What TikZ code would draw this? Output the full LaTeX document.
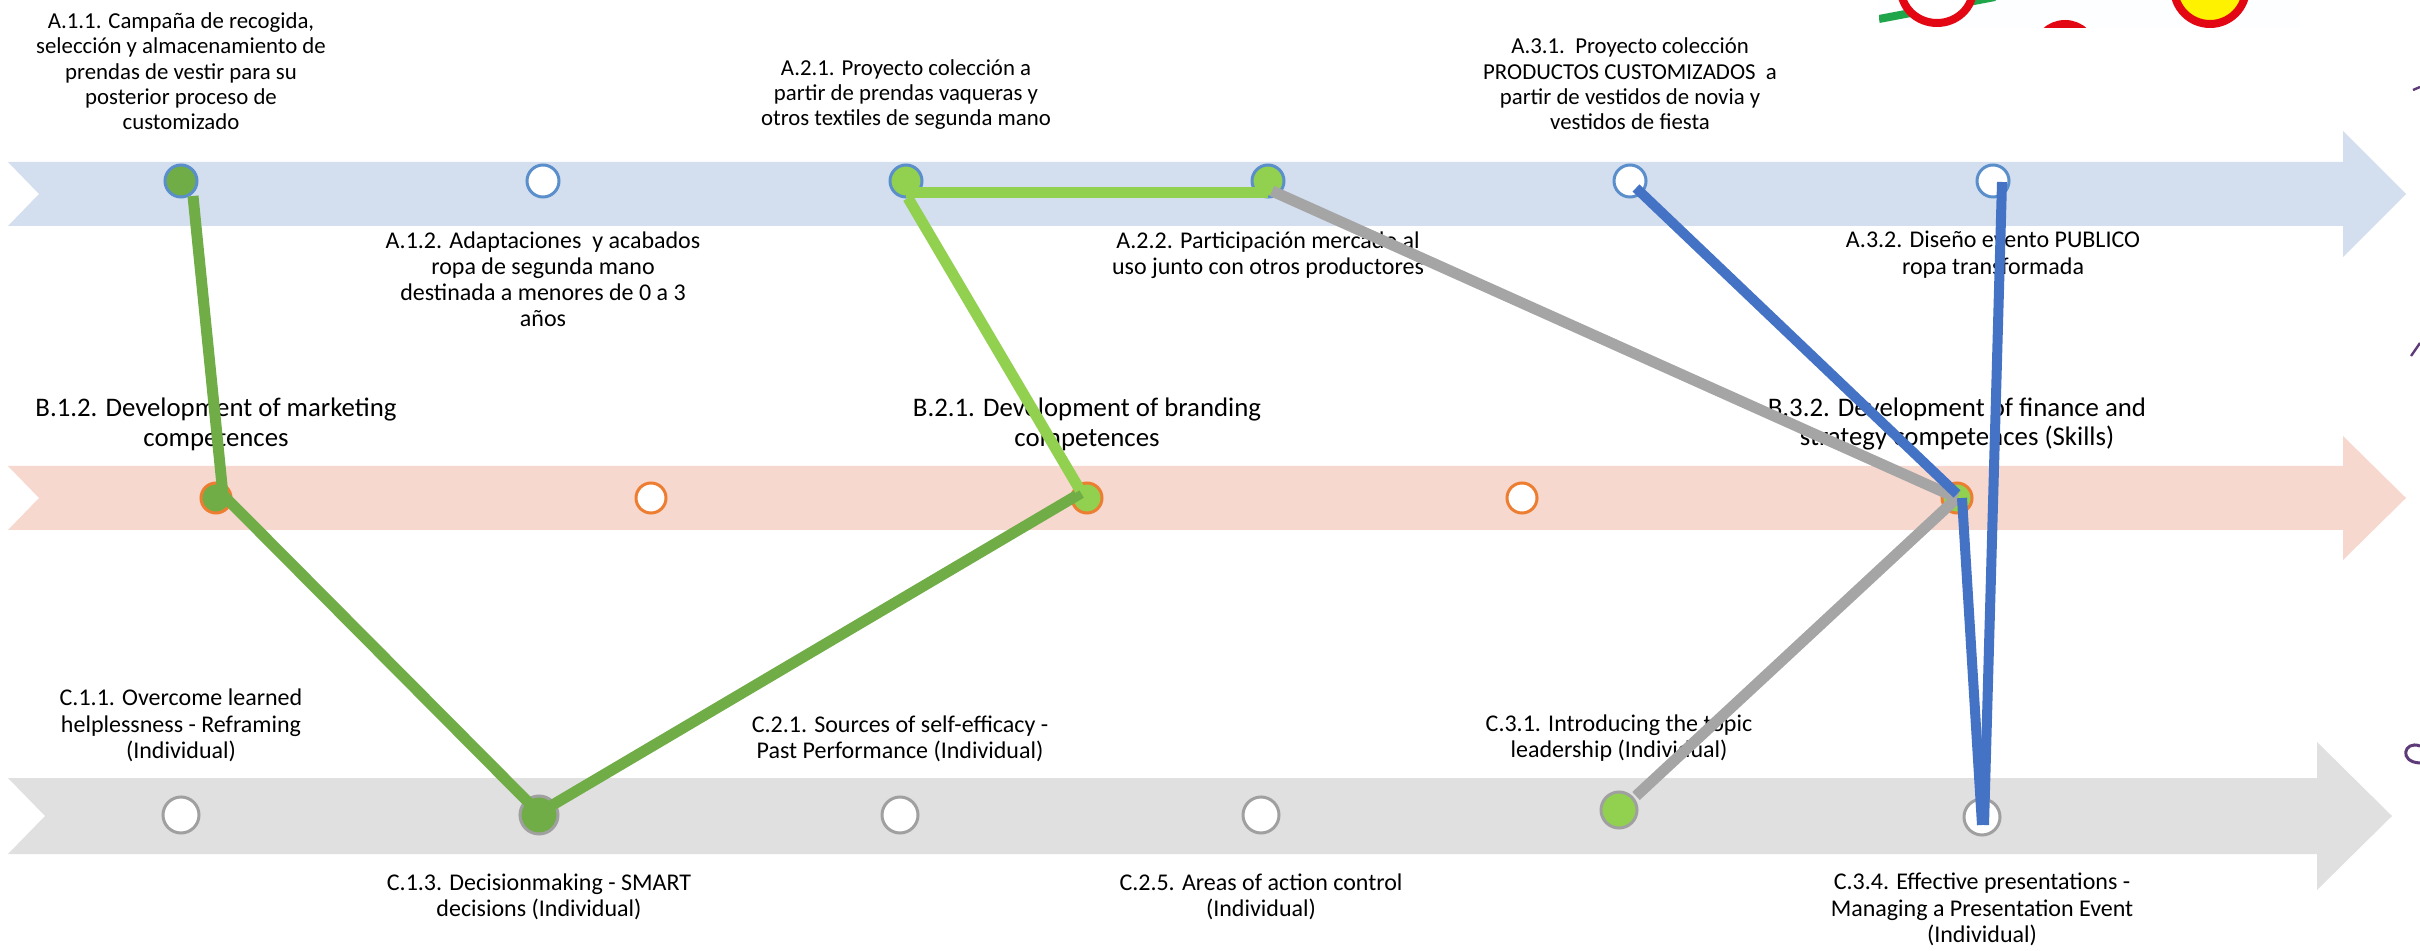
\documentclass[tikz,border=0pt]{standalone}
\usepackage{fontspec}
\setmainfont{Carlito}
\definecolor{bandA}{HTML}{D3DEEF}
\definecolor{bandB}{HTML}{F7D8CE}
\definecolor{bandC}{HTML}{E0E0E0}
\definecolor{dotblue}{HTML}{5B8FCB}
\definecolor{dotorange}{HTML}{ED7D31}
\definecolor{dotgray}{HTML}{A0A0A0}
\definecolor{dgreen}{HTML}{70AD47}
\definecolor{lgreen}{HTML}{92D050}
\definecolor{lgray}{HTML}{A5A5A5}
\definecolor{lblue}{HTML}{4472C4}
\definecolor{fragred}{HTML}{E30613}
\definecolor{fraggreen}{HTML}{1FA64A}
\definecolor{fragyellow}{HTML}{FFF200}
\definecolor{purplemark}{HTML}{5E3A78}
\begin{document}
\begin{tikzpicture}[x=0.5pt,y=-0.5pt,
  tatop/.style={font=\fontsize{11.4}{12.6}\selectfont, align=center, inner sep=0pt},
  ta/.style={font=\fontsize{12}{13.1}\selectfont, align=center, inner sep=0pt},
  tb/.style={font=\fontsize{13.4}{14.7}\selectfont, align=center, inner sep=0pt},
  dotA/.style={circle, draw=dotblue, line width=1.5pt, fill=white, minimum size=16pt, inner sep=0pt},
  dotB/.style={circle, draw=dotorange, line width=1.5pt, fill=white, minimum size=15pt, inner sep=0pt},
  dotC/.style={circle, draw=dotgray, line width=1.5pt, fill=white, minimum size=18pt, inner sep=0pt},
  conn/.style={line width=5.5pt, line cap=butt},
  gconn/.style={conn, draw=dgreen},
  lgconn/.style={conn, draw=lgreen},
  grconn/.style={conn, draw=lgray},
  bconn/.style={line width=5pt, line cap=butt, draw=lblue}]
\useasboundingbox (0,0) rectangle (2420,951);
% bands
\fill[bandA] (8,162) -- (2343,162) -- (2343,131) -- (2406,194) -- (2343,257) -- (2343,226) -- (8,226) -- (39,194) -- cycle;
\fill[bandB] (8,466) -- (2343,466) -- (2343,436) -- (2406,498) -- (2343,560) -- (2343,530) -- (8,530) -- (39,498) -- cycle;
\fill[bandC] (8,778) -- (2317,778) -- (2317,742) -- (2392,816) -- (2317,890) -- (2317,854) -- (8,854) -- (45,816) -- cycle;
% top-right picture fragment
\begin{scope}
\clip (1879,0) rectangle (2300,28);
\fill[white!99!cyan] (1879,0) rectangle (2300,28);
\draw[line width=4pt, fraggreen] (1879,19) -- (1995,-3);
\filldraw[fill=white, draw=fragred, line width=4pt] (1937,-11) ellipse [x radius=36, y radius=34];
\filldraw[fill=white, draw=fragred, line width=4pt] (2065,53) ellipse [x radius=29, y radius=29];
\filldraw[fill=fragyellow, draw=fragred, line width=4pt] (2210,-12) ellipse [x radius=36, y radius=36];
\end{scope}
% cut-off marks at right edge
\draw[purplemark, line width=1.2pt] (2413,90) -- (2420,87);
\draw[purplemark, line width=1.2pt] (2411,356) -- (2420,343);
\draw[purplemark, line width=1.5pt] (2420,746) .. controls (2404,740) and (2398,762) .. (2420,763);
% texts
\node[tatop, anchor=south] (tA11) at (181,130) {A.1.1. Campaña de recogida,\\selección y almacenamiento de\\prendas de vestir para su\\posterior proceso de\\customizado};
\node[ta, anchor=north] (tA12) at (543,231) {A.1.2. Adaptaciones\ \ y acabados\\ropa de segunda mano\\destinada a menores de 0 a 3\\años};
\node[tatop, anchor=south] (tA21) at (906,130) {A.2.1. Proyecto colección a\\partir de prendas vaqueras y\\otros textiles de segunda mano};
\node[ta, anchor=north] (tA22) at (1268,231) {A.2.2. Participación mercado al\\uso junto con otros productores};
\node[tatop, anchor=south] (tA31) at (1630,130) {A.3.1.\ \ Proyecto colección\\PRODUCTOS CUSTOMIZADOS\ \ a\\partir de vestidos de novia y\\vestidos de fiesta};
\node[ta, anchor=north] (tA32) at (1993,231) {A.3.2. Diseño evento PUBLICO\\ropa transformada};
\node[tb, anchor=south] (tB12) at (216,451) {B.1.2. Development of marketing\\competences};
\node[tb, anchor=south] (tB21) at (1087,451) {B.2.1. Development of branding\\competences};
\node[tb, anchor=south] (tB32) at (1957,451) {B.3.2. Development of finance and\\strategy competences (Skills)};
\node[ta, anchor=south] (tC11) at (181,762) {C.1.1. Overcome learned\\helplessness - Reframing\\(Individual)};
\node[ta, anchor=south] (tC21) at (900,762) {C.2.1. Sources of self-efficacy -\\Past Performance (Individual)};
\node[ta, anchor=south] (tC31) at (1619,762) {C.3.1. Introducing the topic\\leadership (Individual)};
\node[ta, anchor=north] (tC13) at (539,873) {C.1.3. Decisionmaking - SMART\\decisions (Individual)};
\node[ta, anchor=north] (tC25) at (1261,873) {C.2.5. Areas of action control\\(Individual)};
\node[ta, anchor=north] (tC34) at (1982,873) {C.3.4. Effective presentations -\\Managing a Presentation Event\\(Individual)};
% dots
\node[dotA, fill=dgreen] (a11) at (181,181) {};
\node[dotA] (a12) at (543,181) {};
\node[dotA, fill=lgreen] (a21) at (906,181) {};
\node[dotA, fill=lgreen] (a22) at (1268,181) {};
\node[dotA] (a31) at (1630,181) {};
\node[dotA] (a32) at (1993,181) {};
\node[dotB, fill=dgreen] (b12) at (216,498) {};
\node[dotB] (b13) at (651,498) {};
\node[dotB, fill=lgreen] (b21) at (1087,498) {};
\node[dotB] (b22) at (1522,498) {};
\node[dotB, fill=lgreen] (b32) at (1957,498) {};
\node[dotC] (c11) at (181,815) {};
\node[dotC, fill=dgreen, minimum size=19pt] (c13) at (539,815) {};
\node[dotC] (c21) at (900,815) {};
\node[dotC] (c25) at (1261,815) {};
\node[dotC, fill=lgreen] (c31) at (1619,810) {};
\node[dotC] (c34) at (1982,817) {};
% connectors
\draw[gconn] ([shift={(12,15)}]a11.center) -- ([shift={(7,-3)}]b12.center);
\draw[gconn] ([shift={(7,-3)}]b12.center) -- ([shift={(0,-2)}]c13.center);
\draw[gconn] ([shift={(0,-2)}]c13.center) -- ([shift={(-6,-5)}]b21.center);
\draw[lgconn] ([shift={(2,17)}]a21.center) -- ([shift={(-7,-8)}]b21.center);
\draw[lgconn] ([shift={(0,12)}]a21.center) -- ([shift={(0,12)}]a22.center);
\draw[grconn] ([shift={(4,10)}]a22.center) -- (b32.center);
\draw[grconn] ([shift={(17,-14)}]c31.center) -- (b32.center);
\draw[bconn] ([shift={(6,7)}]a31.center) -- ([shift={(0,-4)}]b32.center);
\draw[bconn] ([shift={(5,0)}]b32.center) -- ([shift={(0,8)}]c34.center);
\draw[bconn] ([shift={(9,1)}]a32.center) -- ([shift={(2,8)}]c34.center);
\end{tikzpicture}
\end{document}
